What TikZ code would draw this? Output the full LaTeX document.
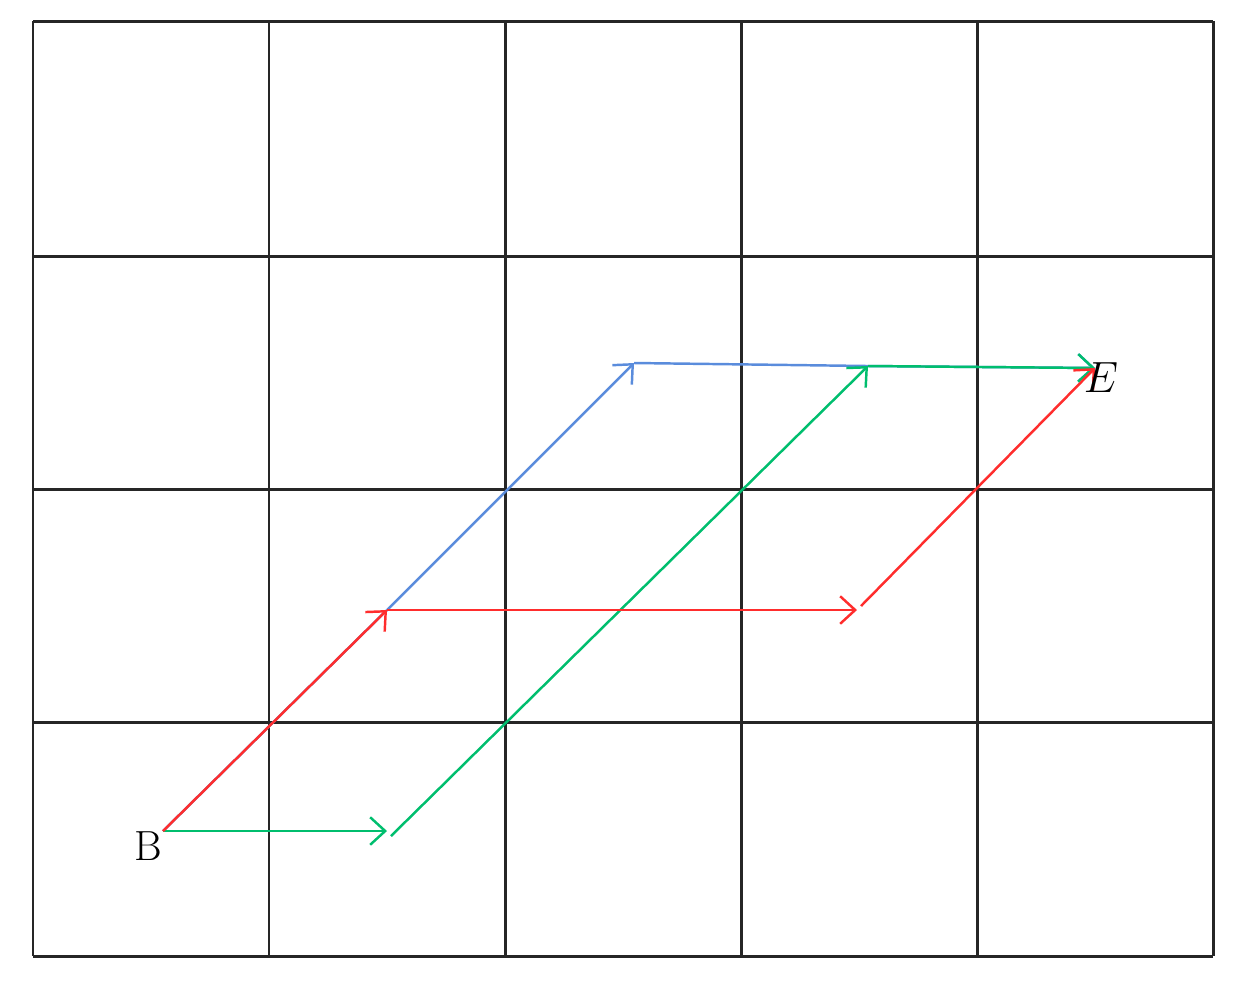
\documentclass[tikz,border=0pt]{standalone}
\usetikzlibrary{arrows.meta}
\definecolor{vblue}{RGB}{90,140,220}
\definecolor{vgreen}{RGB}{0,190,110}
\definecolor{vred}{RGB}{255,45,45}
\tikzset{
  gridline/.style={line width=1.7pt,black!85},
  vec/.style={line width=1.4pt,-{Straight Barb[length=3mm,width=5.5mm,line width=1.4pt]}},
  seg/.style={line width=1.4pt},
  lbl/.style={font=\fontsize{24}{28}\selectfont,inner sep=0pt}
}
\begin{document}
\begin{tikzpicture}[x=0.02cm,y=-0.02cm]
\useasboundingbox (0,0) rectangle (1236,995);
% grid
\foreach \x in {33,269,505,741,977,1213} \draw[gridline] (\x,21) -- (\x,956);
\foreach \y in {21,256,489,722,956} \draw[gridline] (33,\y) -- (1213,\y);
% points
\coordinate (B) at (163,831);
\coordinate (P1) at (387,610);
\coordinate (G1) at (387,831);
\coordinate (G1s) at (391,836);
\coordinate (Q) at (634,363);
\coordinate (R) at (868,366);
\coordinate (E) at (1095,368);
\coordinate (Rt) at (857,610);
\coordinate (Rs) at (861,606);
% blue
\draw[seg,vblue] (B) -- (P1);
\draw[vec,vblue] (P1) -- (Q);
\draw[seg,vblue] (Q) -- (R);
\draw[vec,vblue] (R) -- (E);
% green
\draw[vec,vgreen] (B) -- (G1);
\draw[vec,vgreen] (G1s) -- (R);
\draw[vec,vgreen] (R) -- (E);
% red
\draw[vec,vred] (B) -- (P1);
\draw[vec,vred] (P1) -- (Rt);
\draw[vec,vred] (Rs) -- (E);
% labels
\node[lbl] (Blbl) at (148,846) {B};
\node[lbl] (Elbl) at (1101,378) {$E$};
\end{tikzpicture}
\end{document}
